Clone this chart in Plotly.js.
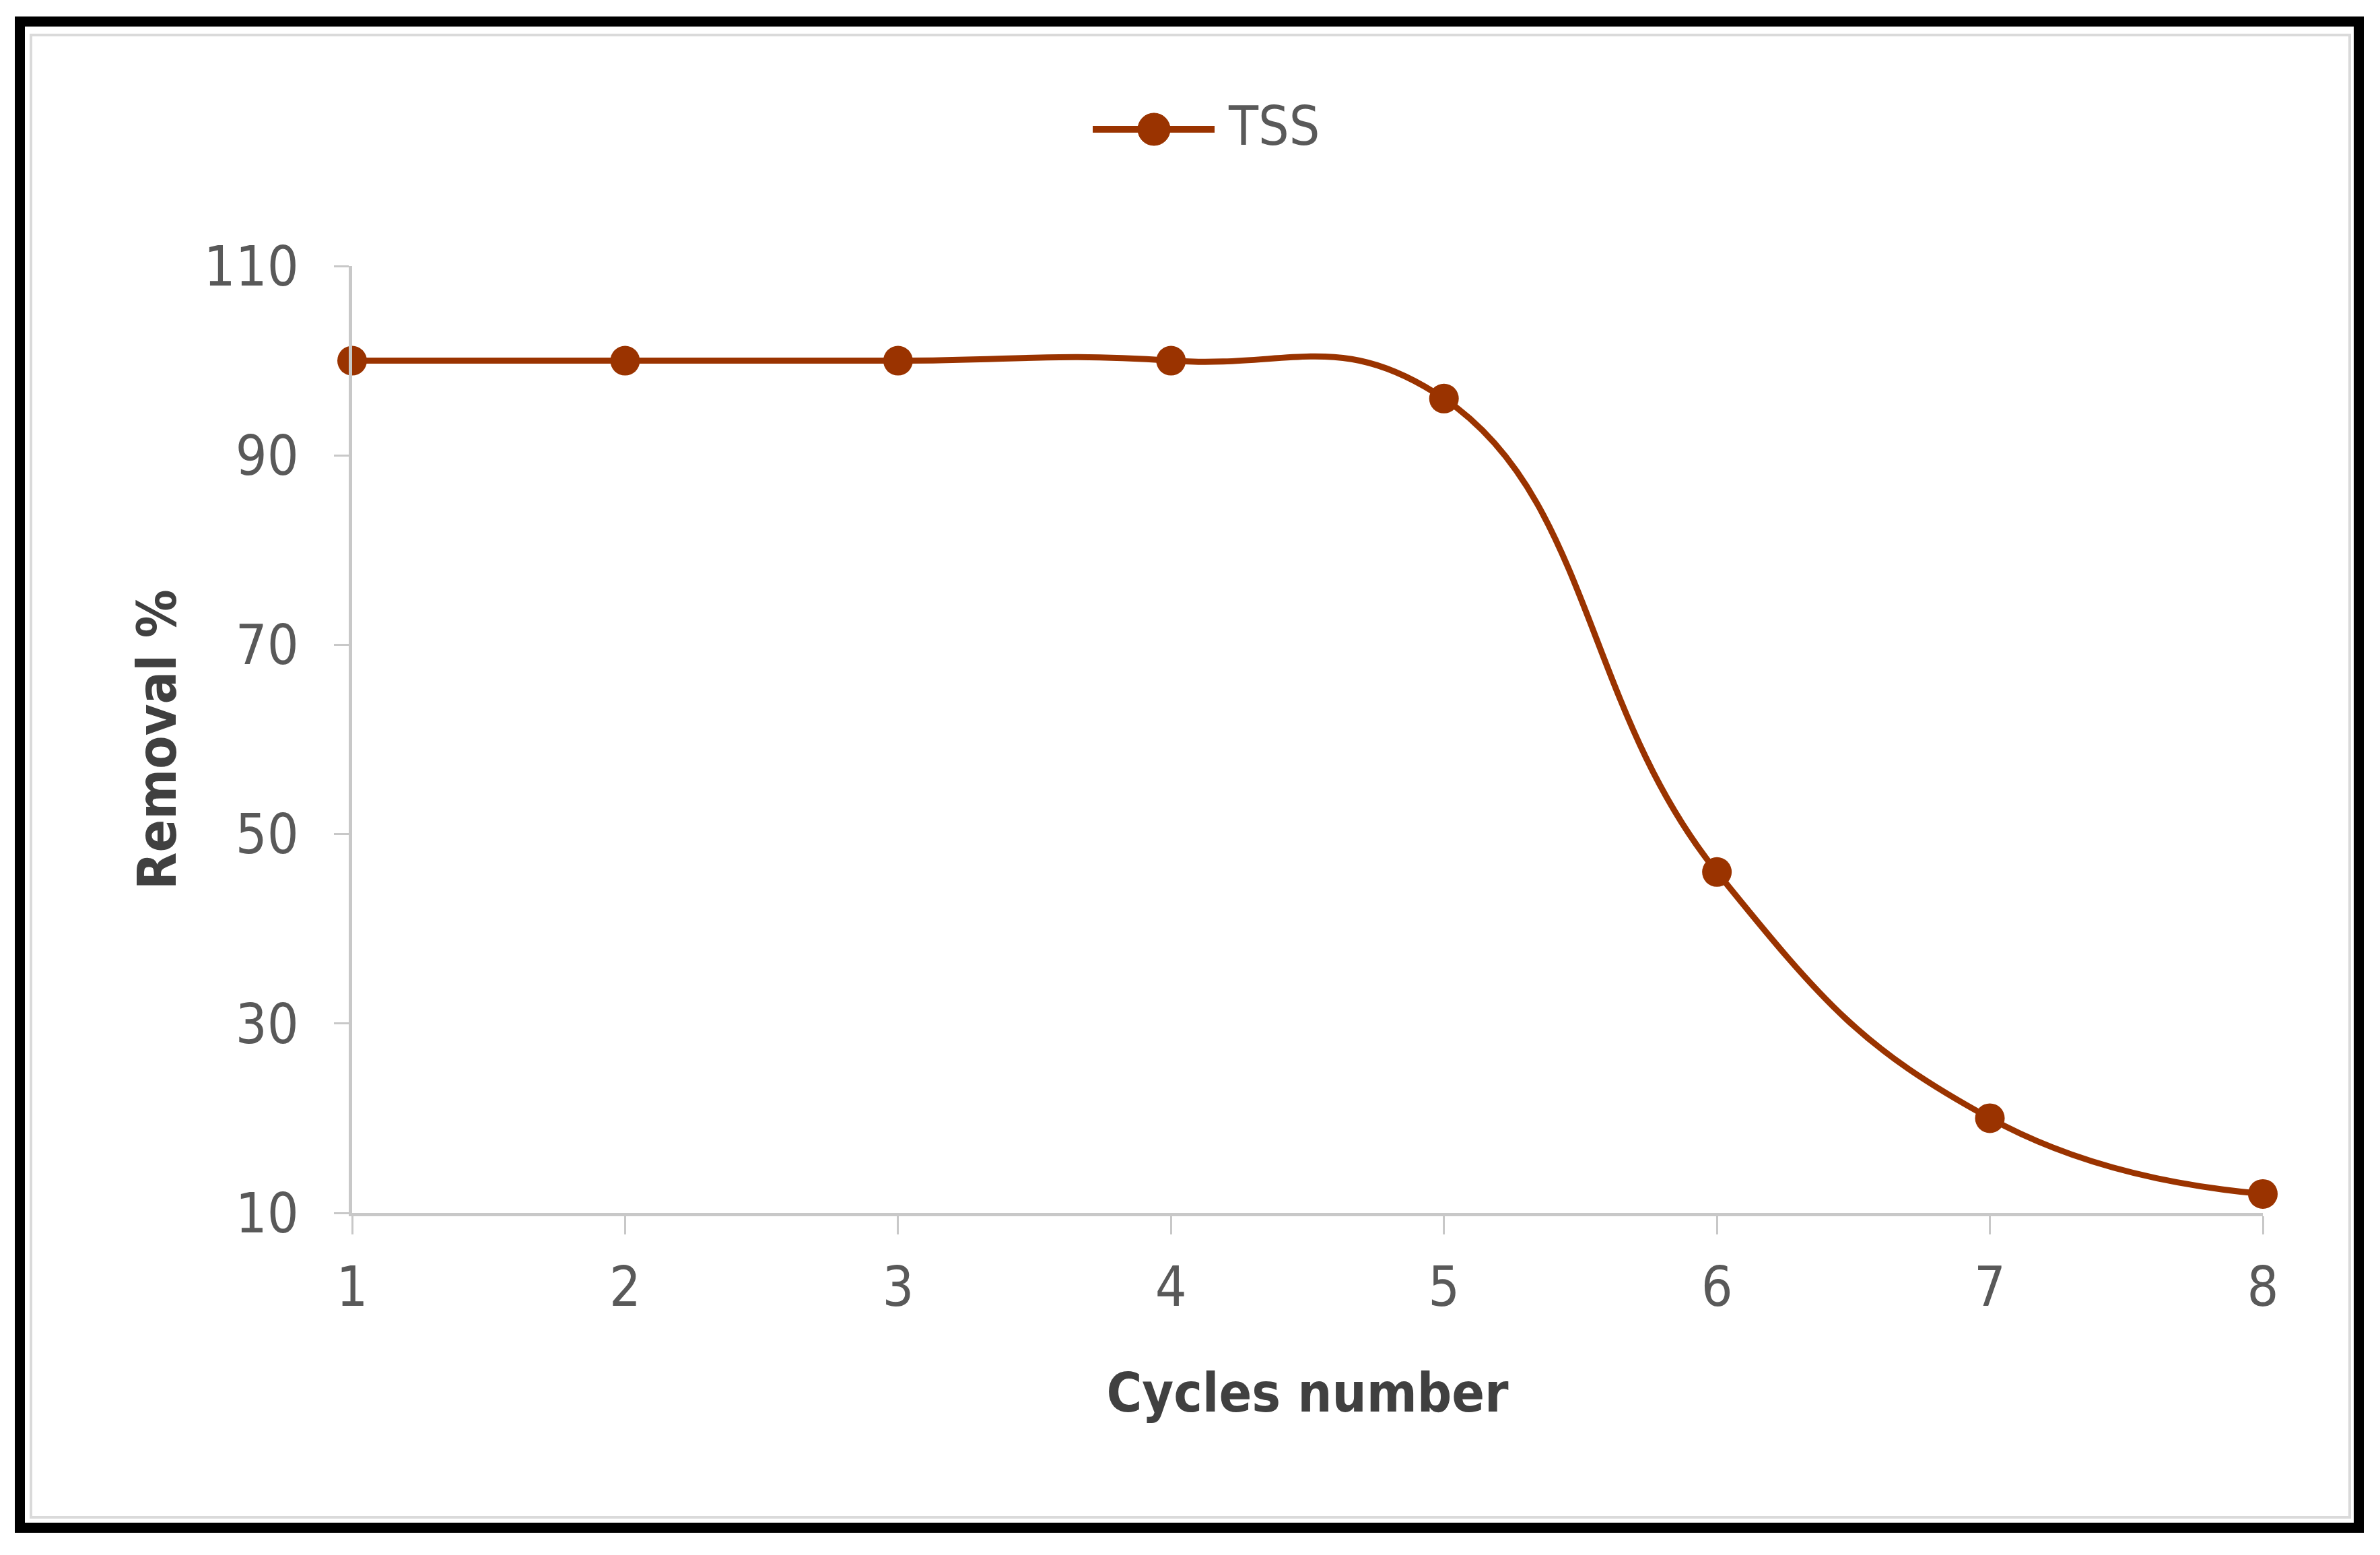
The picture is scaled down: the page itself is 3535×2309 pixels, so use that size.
<!DOCTYPE html>
<html>
<head>
<meta charset="utf-8">
<script src="https://cdn.plot.ly/plotly-3.0.1.min.js"></script>
<style>
  html, body { margin: 0; padding: 0; background: #ffffff; }
  #chart { width: 3535px; height: 2309px; }
</style>
</head>
<body>
<div id="chart"></div>
<script>
// ---- Data ----
const cycles = [1, 2, 3, 4, 5, 6, 7, 8];
const tssRemoval = [100, 100, 100, 100, 96, 46, 20, 12];
const seriesName = "TSS";
const yTickValues = [10, 30, 50, 70, 90, 110];
const xTickValues = [1, 2, 3, 4, 5, 6, 7, 8];

// ---- Layout geometry ----
const W = 3535, H = 2309;
const M = { l: 523, r: 174, t: 395, b: 508 };
const PW = W - M.l - M.r, PH = H - M.t - M.b;
const px = x => (x - M.l) / PW;          // pixel -> paper x
const py = y => (H - M.b - y) / PH;      // pixel -> paper y

const brown = "#9a3300";
const fam = "Liberation Sans Narrow, DejaVu Sans Condensed, Arial Narrow, sans-serif";
const tickFont = { family: fam, size: 82, color: "#595959" };
const titleFont = { family: fam, size: 80, color: "#404040", weight: "bold" };

const trace = {
  x: cycles,
  y: tssRemoval,
  name: seriesName,
  type: "scatter",
  mode: "lines+markers",
  line: { color: brown, width: 9, shape: "spline", smoothing: 1.3 },
  marker: { color: brown, size: 44 },
  cliponaxis: false,
  showlegend: false
};

const layout = {
  width: W, height: H,
  margin: M,
  paper_bgcolor: "#ffffff",
  plot_bgcolor: "#ffffff",
  showlegend: false,
  xaxis: {
    range: [1, 8],
    tickmode: "array",
    tickvals: xTickValues,
    ticks: "outside",
    ticklen: 27,
    tickwidth: 3,
    tickcolor: "#c8c8c8",
    showline: true,
    linecolor: "#c8c8c8",
    linewidth: 5,
    showgrid: false,
    zeroline: false,
    tickfont: tickFont,
    ticklabelstandoff: 8,
    title: { text: "Cycles number", font: titleFont, standoff: 84 },
    automargin: false
  },
  yaxis: {
    range: [10, 110],
    tickmode: "array",
    tickvals: yTickValues,
    ticks: "outside",
    ticklen: 22,
    tickwidth: 3,
    tickcolor: "#c8c8c8",
    showline: true,
    linecolor: "#c8c8c8",
    linewidth: 5,
    showgrid: false,
    zeroline: false,
    tickfont: tickFont,
    ticklabelstandoff: 36,
    title: { text: "Removal %", font: titleFont, standoff: 16 },
    automargin: false
  },
  shapes: [
    // outer black frame
    { type: "rect", xref: "paper", yref: "paper",
      x0: px(29.5), x1: px(3503.5), y0: py(2268.5), y1: py(32),
      line: { color: "#000000", width: 15 }, fillcolor: "rgba(0,0,0,0)", layer: "below" },
    // inner light-gray frame
    { type: "rect", xref: "paper", yref: "paper",
      x0: px(46), x1: px(3490), y0: py(2253), y1: py(52),
      line: { color: "#dadada", width: 4 }, fillcolor: "rgba(0,0,0,0)", layer: "below" },
    // legend line
    { type: "line", xref: "paper", yref: "paper",
      x0: px(1623), x1: px(1804), y0: py(192), y1: py(192),
      line: { color: brown, width: 10 } },
    // legend marker
    { type: "circle", xref: "paper", yref: "paper",
      x0: px(1690), x1: px(1738), y0: py(216), y1: py(168),
      line: { color: brown, width: 1 }, fillcolor: brown }
  ],
  annotations: [
    { xref: "paper", yref: "paper", x: px(1822), y: py(188),
      xanchor: "left", yanchor: "middle", showarrow: false,
      text: seriesName, font: { family: fam, size: 80, color: "#595959" } }
  ]
};

Plotly.newPlot("chart", [trace], layout, { displayModeBar: false, staticPlot: true });
</script>
</body>
</html>
